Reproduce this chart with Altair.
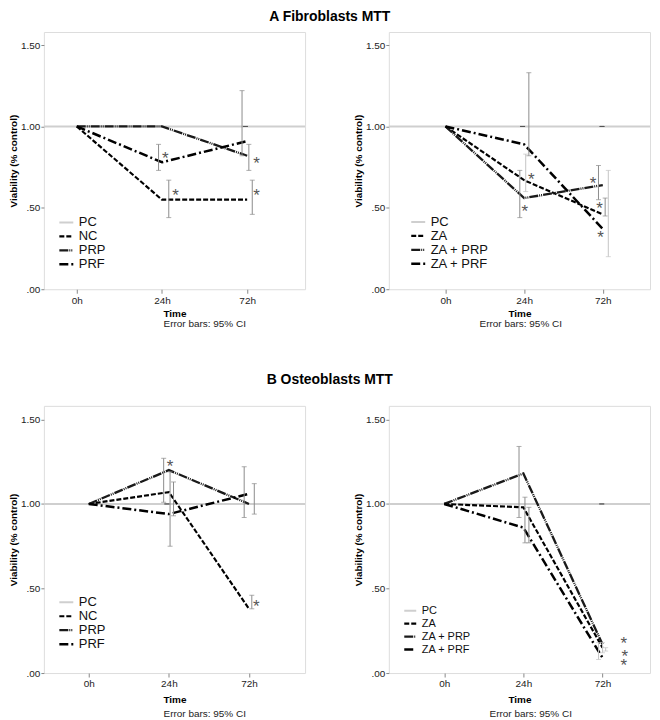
import altair as alt
import pandas as pd

FONT = "Liberation Sans"
times = ["0h", "24h", "72h"]

# ---------------- A  Fibroblasts: controls ----------------
a1_series = ["PC", "NC", "PRP", "PRF"]
a1_pc = [1.00]
a1_nc = [1.00, 0.55, 0.55]
a1_prp = [1.00, 1.00, 0.82]
a1_prf = [1.00, 0.78, 0.91]
a1_err_time = [1, 1, 2, 2, 2, 2]
a1_err_dodge = [0.08, -0.04, -0.06, 0.02, 0.06, -0.02]
a1_err_lo = [0.44, 0.73, 0.82, 0.73, 0.46, 1.00]
a1_err_hi = [0.67, 0.89, 1.22, 0.89, 0.67, 1.00]
a1_err_tone = ["mid", "mid", "mid", "mid", "mid", "dark"]
a1_star_time = [1, 1, 2, 2]
a1_star_dodge = [0.04, 0.16, 0.11, 0.11]
a1_star_y = [0.82, 0.59, 0.79, 0.59]

# ---------------- A  Fibroblasts: ZA ----------------
a2_series = ["PC", "ZA", "ZA + PRP", "ZA + PRF"]
a2_pc = [1.00]
a2_za = [1.00, 0.67, 0.46]
a2_zaprp = [1.00, 0.56, 0.64]
a2_zaprf = [1.00, 0.89, 0.37]
a2_err_time = [1, 1, 1, 2, 2, 2, 1, 2]
a2_err_dodge = [-0.055, 0.02, 0.06, -0.055, 0.03, 0.07, -0.02, -0.01]
a2_err_lo = [0.44, 0.60, 0.82, 0.55, 0.45, 0.20, 1.00, 1.00]
a2_err_hi = [0.73, 0.83, 1.33, 0.76, 0.56, 0.73, 1.00, 1.00]
a2_err_tone = ["mid", "light", "mid", "mid", "mid", "light", "dark", "dark"]
a2_star_time = [1, 1, 2, 2, 2]
a2_star_dodge = [0.09, 0.01, -0.125, -0.04, -0.03]
a2_star_y = [0.69, 0.495, 0.665, 0.51, 0.335]

# ---------------- B  Osteoblasts: controls ----------------
b1_series = ["PC", "NC", "PRP", "PRF"]
b1_pc = [1.00]
b1_nc = [1.00, 1.07, 0.38]
b1_prp = [1.00, 1.20, 1.00]
b1_prf = [1.00, 0.94, 1.06]
b1_err_time = [1, 1, 1, 2, 2, 2, 1]
b1_err_dodge = [-0.065, 0.015, 0.058, -0.06, 0.066, 0.035, -0.025]
b1_err_lo = [1.01, 0.75, 0.93, 0.92, 0.94, 0.38, 1.00]
b1_err_hi = [1.27, 1.19, 1.13, 1.22, 1.12, 0.46, 1.00]
b1_err_tone = ["mid", "mid", "mid", "mid", "mid", "mid", "dark"]
b1_star_time = [1, 2]
b1_star_dodge = [0.016, 0.09]
b1_star_y = [1.235, 0.41]

# ---------------- B  Osteoblasts: ZA ----------------
b2_series = ["PC", "ZA", "ZA + PRP", "ZA + PRF"]
b2_pc = [1.00]
b2_za = [1.00, 0.98, 0.15]
b2_zaprp = [1.00, 1.18, 0.17]
b2_zaprf = [1.00, 0.86, 0.09]
b2_err_time = [1, 1, 1, 2, 2, 2, 2]
b2_err_dodge = [-0.055, 0.02, 0.07, -0.05, 0.0, 0.04, -0.01]
b2_err_lo = [0.92, 0.77, 0.77, 0.08, 0.12, 0.13, 1.00]
b2_err_hi = [1.34, 1.04, 0.98, 0.18, 0.18, 0.15, 1.00]
b2_err_tone = ["mid", "mid", "mid", "light", "light", "light", "dark"]
b2_star_time = [2, 2, 2]
b2_star_dodge = [0.27, 0.28, 0.27]
b2_star_y = [0.19, 0.11, 0.06]

SERIES_COLORS = ["#cfcfcf", "#000000", "#1a1a1a", "#000000"]
SERIES_DASH = [[1, 0], [5, 2], [9, 1, 1, 1, 1, 1], [9, 3, 2, 3]]
SERIES_WIDTH = [2.0, 2.5, 1.6, 2.0]
TONES = {"mid": "#8c8c8c", "light": "#c4c4c4", "dark": "#444444"}


def panel(series, pc, lines, err, stars, xdom, leg, width, height, tpad, note_pos):
    lx, ly, lfont, lsym, lclip = leg
    note_dx, note_dy = note_pos
    line_rows = []
    for name, vals in zip(series[1:], lines):
        for i, v in enumerate(vals):
            line_rows.append({"series": name, "x": i, "v": v})
    line_df = pd.DataFrame(line_rows)
    pc_df = pd.DataFrame({"series": [series[0]], "v": pc})
    et, ed, elo, ehi, etone = err
    err_df = pd.DataFrame({"x": [t + d for t, d in zip(et, ed)], "lo": elo, "hi": ehi, "tone": etone})
    st, sd, sy = stars
    star_df = pd.DataFrame({"x": [t + d for t, d in zip(st, sd)], "v": sy, "s": ["*"] * len(sy)})

    legend = alt.Legend(orient="none", legendX=lx, legendY=ly, title=None, padding=0,
                        symbolType="stroke", symbolSize=lsym * lsym, labelFontSize=lfont,
                        labelFont=FONT, labelOffset=4, rowPadding=0, clipHeight=lclip, labelColor="#111")
    color = alt.Color("series:N", scale=alt.Scale(domain=series, range=SERIES_COLORS), legend=legend)
    dash = alt.StrokeDash("series:N", scale=alt.Scale(domain=series, range=SERIES_DASH), legend=legend)
    sw = alt.StrokeWidth("series:N", scale=alt.Scale(domain=series, range=SERIES_WIDTH), legend=legend)

    xaxis = alt.Axis(values=[0, 1, 2], labelExpr="['0h','24h','72h'][datum.value]", title="Time",
                     grid=False, domain=False, tickSize=4, tickColor="#888", labelFontSize=10,
                     titleFontSize=10, titleFontWeight="bold", labelPadding=2, titlePadding=tpad,
                     labelColor="#222", titleColor="#000", labelFont=FONT, titleFont=FONT)
    yaxis = alt.Axis(values=[0, 0.5, 1.0, 1.5],
                     labelExpr="datum.value == 0 ? '.00' : datum.value == 0.5 ? '.50' : format(datum.value, '.2f')",
                     title="Viability (% control)", grid=False, domain=False, tickSize=3, tickColor="#888",
                     labelFontSize=10, titleFontSize=10, titleFontWeight="bold", labelPadding=1,
                     titlePadding=2, labelColor="#222", titleColor="#000", labelFont=FONT, titleFont=FONT)
    xs = alt.Scale(domain=xdom, nice=False, zero=False)
    ys = alt.Scale(domain=[0, 1.58], nice=False)

    def X(f):
        return alt.X(f, scale=xs, axis=xaxis)

    def Y(f):
        return alt.Y(f, scale=ys, axis=yaxis)

    pc_layer = alt.Chart(pc_df).mark_rule().encode(y=Y("v:Q"), color=color, strokeDash=dash, strokeWidth=sw)
    line_layer = alt.Chart(line_df).mark_line().encode(
        x=X("x:Q"), y=Y("v:Q"), color=color, strokeDash=dash, strokeWidth=sw, detail="series:N")
    err_layers = []
    for tone, col in TONES.items():
        base = alt.Chart(err_df).transform_filter(alt.datum.tone == tone)
        err_layers.append(base.mark_rule(color=col, strokeWidth=1).encode(x=X("x:Q"), y=Y("lo:Q"), y2="hi:Q"))
        err_layers.append(base.transform_fold(["lo", "hi"], as_=["end", "v"])
                          .mark_tick(color=col, orient="horizontal", size=5, thickness=1)
                          .encode(x=X("x:Q"), y=Y("v:Q")))
    star_layer = alt.Chart(star_df).mark_text(fontSize=17, color="#555", font=FONT, baseline="middle", dy=3).encode(
        x=X("x:Q"), y=Y("v:Q"), text="s:N")
    note = alt.Chart(pd.DataFrame({"t": ["Error bars: 95% CI"]})).mark_text(
        align="left", baseline="middle", fontSize=10, font=FONT, color="#222").encode(
        x=alt.value(width / 2 + note_dx), y=alt.value(height + note_dy), text="t:N")

    return alt.layer(pc_layer, line_layer, *err_layers, star_layer, note).properties(width=width, height=height)


def row(p1, p2, title, off):
    return alt.hconcat(p1, p2, spacing=46).resolve_scale(
        color="independent", strokeDash="independent", strokeWidth="independent").resolve_legend(
        color="independent", strokeDash="independent", strokeWidth="independent").properties(
        title=alt.Title(title, anchor="middle", fontSize=14, fontWeight="bold", font=FONT, offset=off, color="#000"))


pa1 = panel(a1_series, a1_pc, [a1_nc, a1_prp, a1_prf],
            (a1_err_time, a1_err_dodge, a1_err_lo, a1_err_hi, a1_err_tone),
            (a1_star_time, a1_star_dodge, a1_star_y), [-0.386, 2.68], (14, 184, 13, 14, 14),
            262, 258, 3, (-11, 35))
pa2 = panel(a2_series, a2_pc, [a2_za, a2_zaprp, a2_zaprf],
            (a2_err_time, a2_err_dodge, a2_err_lo, a2_err_hi, a2_err_tone),
            (a2_star_time, a2_star_dodge, a2_star_y), [-0.72, 2.60], (21, 184, 13, 14, 13),
            262, 258, 3, (-40, 35))
pb1 = panel(b1_series, b1_pc, [b1_nc, b1_prp, b1_prf],
            (b1_err_time, b1_err_dodge, b1_err_lo, b1_err_hi, b1_err_tone),
            (b1_star_time, b1_star_dodge, b1_star_y), [-0.56, 2.70], (14, 190, 13, 14, 14),
            262, 268, 6, (-11, 41))
pb2 = panel(b2_series, b2_pc, [b2_za, b2_zaprp, b2_zaprf],
            (b2_err_time, b2_err_dodge, b2_err_lo, b2_err_hi, b2_err_tone),
            (b2_star_time, b2_star_dodge, b2_star_y), [-0.70, 2.60], (14, 199, 11, 12, 13),
            262, 268, 6, (-30, 41))

chart = alt.vconcat(row(pa1, pa2, "A  Fibroblasts MTT", 8), row(pb1, pb2, "B  Osteoblasts MTT", 18),
                    spacing=43).resolve_scale(
    color="independent", strokeDash="independent", strokeWidth="independent").resolve_legend(
    color="independent", strokeDash="independent", strokeWidth="independent").configure_view(
    stroke="#8c8c8c", strokeWidth=1).configure(background="white", padding=0)

chart.save("out.html", embed_options={"renderer": "svg", "actions": False})
